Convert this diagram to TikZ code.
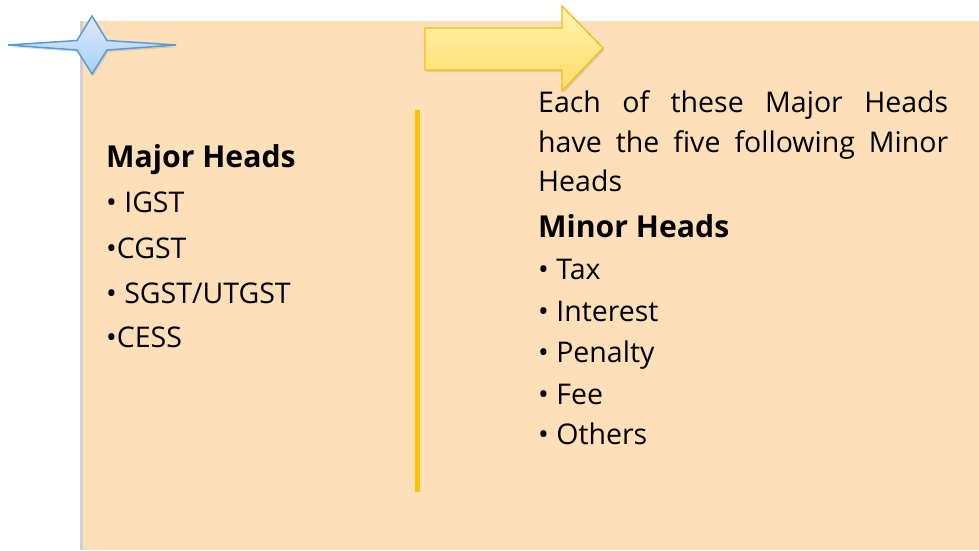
\documentclass[tikz,border=0pt]{standalone}
\usepackage{fontspec}
\setmainfont{Open Sans}
\usetikzlibrary{shadows}
\definecolor{peach}{HTML}{FDDFB9}
\definecolor{gold}{HTML}{FFC000}
\definecolor{starline}{HTML}{5B9BD5}
\definecolor{startop}{HTML}{DCEBFC}
\definecolor{starbot}{HTML}{A9CEF4}
\definecolor{arrtop}{HTML}{FFF4B0}
\definecolor{arrbot}{HTML}{FFDD66}
\definecolor{arrline}{HTML}{F2BE12}
\tikzset{
  txt/.style={anchor=base west, inner sep=0pt, font=\fontsize{28.5}{34}\selectfont},
  hd/.style={txt, font=\fontsize{30.2}{34}\selectfont\bfseries},
}
\begin{document}
\begin{tikzpicture}[x=1pt,y=-1pt]
\useasboundingbox (0,0) rectangle (979,550);
% panel
\fill[black!18] (80,21) rectangle (84,550);
\fill[peach] (83,21) rectangle (979,550);
% star
\path[draw=starline, line width=1.5pt, line join=miter, top color=startop, bottom color=starbot,
  drop shadow={opacity=0.25, shadow xshift=1.5pt, shadow yshift=-2pt}]
  (8,45) -- (77,40.5) -- (92,16) -- (107,40.5) -- (176,45) -- (107,50) -- (92,74) -- (77,50) -- cycle;
% arrow
\path[draw=arrline, line width=1.3pt, top color=arrtop, bottom color=arrbot,
  drop shadow={opacity=0.25, shadow xshift=1.5pt, shadow yshift=-2pt}]
  (425,28) -- (562,28) -- (562,6) -- (603,48) -- (562,91) -- (562,70) -- (425,70) -- cycle;
% divider
\fill[gold] (414.5,110) rectangle (420,492);
% left column
\node[hd]  (mh) at (106,167) {Major Heads};
\node[txt] (l1) at (106,212) {• IGST};
\node[txt] (l2) at (106,258) {•CGST};
\node[txt] (l3) at (106,303) {• SGST/UTGST};
\node[txt] (l4) at (106,347) {•CESS};
% right column
\node[txt] (r1) at (538,112) {\makebox[410pt][s]{Each of these Major Heads}};
\node[txt] (r2) at (538,152) {\makebox[410pt][s]{have the five following Minor}};
\node[txt] (r3) at (538,191) {Heads};
\node[hd]  (mn) at (538,237) {Minor Heads};
\node[txt] (b1) at (538,279) {• Tax};
\node[txt] (b2) at (538,321) {• Interest};
\node[txt] (b3) at (538,362) {• Penalty};
\node[txt] (b4) at (538,404) {• Fee};
\node[txt] (b5) at (538,444) {• Others};
\end{tikzpicture}
\end{document}
